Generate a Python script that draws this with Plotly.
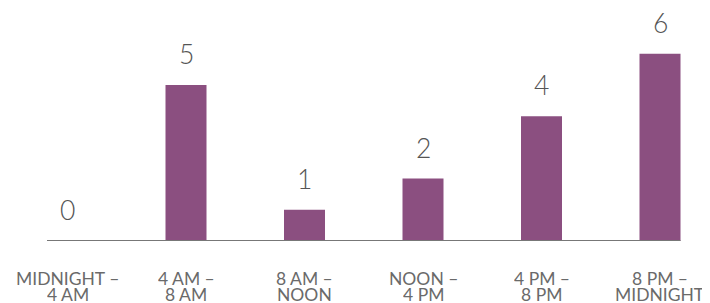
import plotly.graph_objects as go

line1 = ["MIDNIGHT –", "4 AM –", "8 AM –", "NOON –", "4 PM –", "8 PM –"]
line2 = ["4 AM", "8 AM", "NOON", "4 PM", "8 PM", "MIDNIGHT"]
values = [0, 5, 1, 2, 4, 6]

BAR = "#8b4f80"
FONT = "Lato"
x = list(range(len(values)))

fig = go.Figure()
fig.add_trace(go.Bar(x=x, y=values, marker_color=BAR, width=0.346,
                     marker_line_width=0, hoverinfo="skip"))

ann = []
for i, v in enumerate(values):
    ann.append(dict(x=i, y=v, text=str(v), showarrow=False, yanchor="bottom",
                    height=26, valign="middle", yshift=16,
                    font=dict(family=FONT, size=26.5, color="#555555", weight=300)))
    ann.append(dict(x=i, y=0, text=line1[i], showarrow=False, yanchor="middle",
                    height=16, valign="middle", yshift=-37,
                    font=dict(family=FONT, size=17.5, color="#6a6a6a")))
    ann.append(dict(x=i, y=0, text=line2[i], showarrow=False, yanchor="middle",
                    height=16, valign="middle", yshift=-53,
                    font=dict(family=FONT, size=17.5, color="#6a6a6a")))

fig.add_shape(type="line", xref="x", yref="y", x0=-0.173, x1=len(values) - 1 + 0.173,
              y0=0, y1=0, line=dict(color="#777777", width=2))

fig.update_layout(
    width=702, height=295,
    margin=dict(l=0, r=0, t=0, b=62),
    paper_bgcolor="white", plot_bgcolor="white",
    showlegend=False,
    annotations=ann,
    xaxis=dict(range=[-0.5021, 5.4219], showticklabels=False, showgrid=False,
               zeroline=False, showline=False, ticks=""),
    yaxis=dict(range=[0, 7.468], visible=False, showgrid=False, zeroline=False),
)
fig.write_html("out.html")
